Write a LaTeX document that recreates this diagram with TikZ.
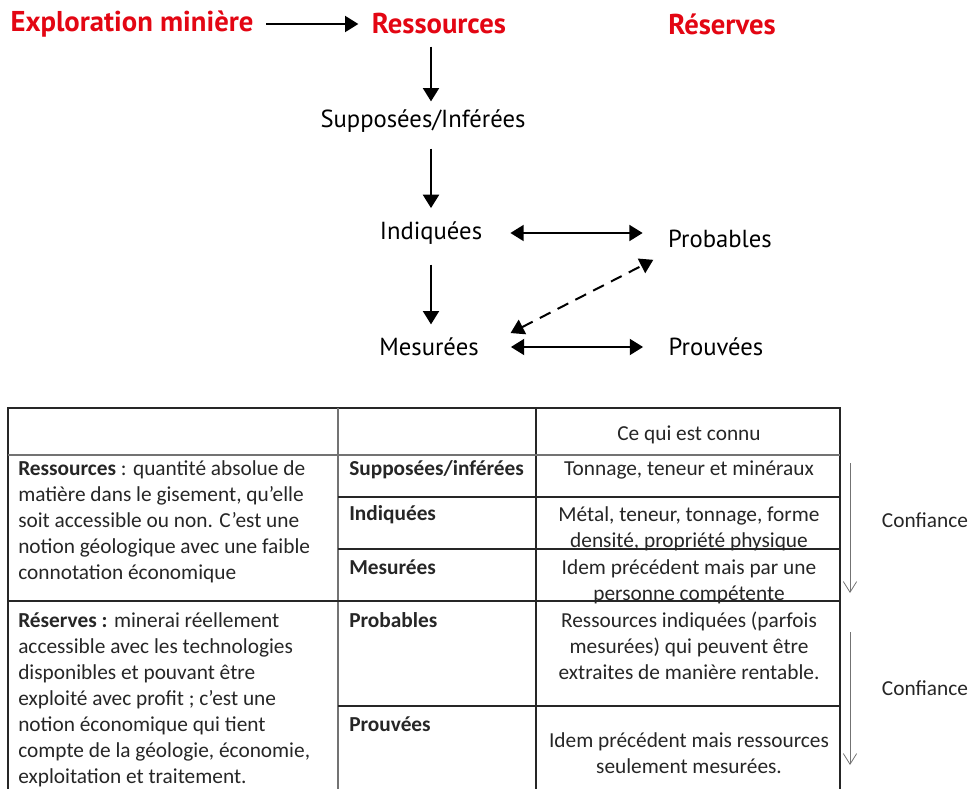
\documentclass[tikz,border=0pt]{standalone}
\usepackage{fontspec}
\setmainfont{Carlito}
\newfontfamily\diagfont{PT Sans}
\usepackage{xcolor}
\usetikzlibrary{arrows.meta, positioning, calc}
\definecolor{minered}{RGB}{227,6,19}
\definecolor{tabtext}{RGB}{38,38,38}
\definecolor{tabgray}{RGB}{115,115,115}

\begin{document}
\begin{tikzpicture}[
  x=0.75pt, y=-0.75pt,
  >={Triangle[length=10pt, width=12pt]},
  heading/.style={font=\diagfont\bfseries\fontsize{21.5}{24}\selectfont,
                  text=minered, inner sep=2pt},
  cat/.style={font=\diagfont\fontsize{18.5}{22}\selectfont, inner sep=2pt},
  flow/.style={->, line width=1.5pt},
  twoway/.style={<->, line width=1.5pt},
  cell/.style={font=\fontsize{16}{19.5}\selectfont, text=tabtext,
               inner sep=0pt, align=left, anchor=north west},
  known/.style={cell, align=center, anchor=north},
  darkrule/.style={line width=1.2pt, black!85},
  lightrule/.style={line width=1pt, tabgray},
  trust/.style={-{Straight Barb[length=8pt, width=10pt]},
                line width=0.6pt, tabgray}
]
\useasboundingbox (0,0) rectangle (972,789);

%% ── CLASSIFICATION FLOW ─────────────────────────────────────────
\node[heading] (explo) at (132,24) {Exploration minière};
\node[heading] (ress)  at (439,24) {Ressources};
\node[heading] (reser) at (722,24) {Réserves};

\node[cat] (supp)  at (423,121) {Supposées/Inférées};
\node[cat] (ind)   at (431,233) {Indiquées};
\node[cat] (mes)   at (429,347) {Mesurées};
\node[cat] (prob)  at (720,239) {Probables};
\node[cat] (prouv) at (716,347) {Prouvées};

\draw[flow, shorten <=7.5pt, shorten >=8pt] (explo.east) -- (ress.west);
\draw[flow, shorten <=7pt, shorten >=4pt] (ress.south -| ind) -- (supp.north -| ind);
\draw[flow, shorten <=10pt, shorten >=8pt] (supp.south -| ind) -- (ind.north);
\draw[flow, shorten <=13pt, shorten >=8pt] (ind.south) -- (mes.north -| ind);
\draw[twoway, shorten <=19pt, shorten >=17pt] (ind.east) -- (ind.east -| prob.west);
\draw[twoway, shorten <=22pt, shorten >=17pt] (mes.east) -- (mes.east -| prouv.west);
\draw[twoway, dash pattern=on 9pt off 6pt]
  ([shift={(29,-2)}]mes.north east) -- ([shift={(-12,9)}]prob.south west);

%% ── TABLE RULES ─────────────────────────────────────────────────
\draw[darkrule] (8,789) -- (8,408) -- (840,408) -- (840,789);
\draw[lightrule] (338,408) -- (338,789);
\draw[darkrule] (536,408) -- (536,789);
\draw[lightrule] (8,455) -- (840,455);
\draw[darkrule] (338,497) -- (840,497);
\draw[darkrule] (338,549) -- (840,549);
\draw[darkrule] (8,601) -- (840,601);
\draw[darkrule] (338,706) -- (840,706);

%% ── TABLE TEXT ──────────────────────────────────────────────────
\node[cell] (defRess) at (18,457)
  {\strut\textbf{Ressources} : quantité absolue de\\
   matière dans le gisement, qu’elle\\
   soit accessible ou non. C’est une\\
   notion géologique avec une faible\\
   connotation économique};
\node[cell] (defReser) at (18,609)
  {\strut\textbf{Réserves :} minerai réellement\\
   accessible avec les technologies\\
   disponibles et pouvant être\\
   exploité avec profit ; c’est une\\
   notion économique qui tient\\
   compte de la géologie, économie,\\
   exploitation et traitement.};

\node[cell] (lSupp)  at (349,457) {\strut\textbf{Supposées/inférées}};
\node[cell] (lInd)   at (349,502) {\strut\textbf{Indiquées}};
\node[cell] (lMes)   at (349,556) {\strut\textbf{Mesurées}};
\node[cell] (lProb)  at (349,609) {\strut\textbf{Probables}};
\node[cell] (lProuv) at (349,713) {\strut\textbf{Prouvées}};

\node[known] (kHead)  at (689,422) {\strut Ce qui est connu};
\node[known] (kSupp)  at (689,457) {\strut Tonnage, teneur et minéraux};
\node[known] (kInd)   at (689,503)
  {\strut Métal, teneur, tonnage, forme\\ densité, propriété physique};
\node[known] (kMes)   at (689,556)
  {\strut Idem précédent mais par une\\ personne compétente};
\node[known] (kProb)  at (689,609)
  {\strut Ressources indiquées (parfois\\ mesurées) qui peuvent être\\
   extraites de manière rentable.};
\node[known] (kProuv) at (689,729)
  {\strut Idem précédent mais ressources\\ seulement mesurées.};

%% ── CONFIDENCE ARROWS ───────────────────────────────────────────
\coordinate (trustResTop) at (850,463);
\coordinate (trustResEnd) at (850,593);
\coordinate (trustRsvTop) at (850,632);
\coordinate (trustRsvEnd) at (850,765);
\draw[trust] (trustResTop) -- (trustResEnd);
\draw[trust] (trustRsvTop) -- (trustRsvEnd);
\node[cell, anchor=center] (confRes) at (925,520) {Confiance};
\node[cell, anchor=center] (confRsv) at (925,688) {Confiance};

\end{tikzpicture}
\end{document}
